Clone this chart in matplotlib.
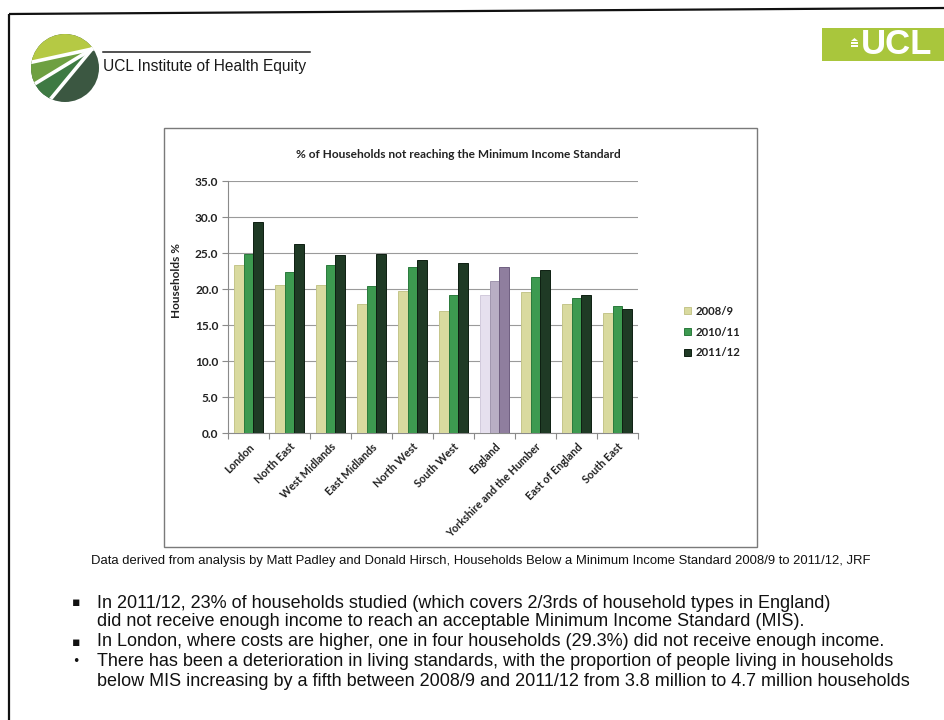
import matplotlib
matplotlib.use("Agg")
import matplotlib.pyplot as plt
from matplotlib.patches import Rectangle, Circle, Polygon
from matplotlib.ticker import FixedLocator, FormatStrFormatter
import numpy as np

# ---- data ----
regions = ["London", "North East", "West Midlands", "East Midlands", "North West",
           "South West", "England", "Yorkshire and the Humber", "East of England",
           "South East"]
series_names = ["2008/9", "2010/11", "2011/12"]
pct_2008_9 = [23.4, 20.5, 20.6, 17.9, 19.7, 17.0, 19.1, 19.6, 17.9, 16.7]
pct_2010_11 = [24.8, 22.4, 23.4, 20.4, 23.1, 19.2, 21.1, 21.7, 18.8, 17.6]
pct_2011_12 = [29.3, 26.3, 24.7, 24.8, 24.0, 23.6, 23.1, 22.6, 19.1, 17.2]
y_ticks = [0, 5, 10, 15, 20, 25, 30, 35]

chart_title = "% of Households not reaching the Minimum Income Standard"
y_title = "Households %"
source_note = ("Data derived from analysis by Matt Padley and Donald Hirsch, "
               "Households Below a Minimum Income Standard 2008/9 to 2011/12, JRF")
bullet_lines = [
    ("\u25aa", "In 2011/12, 23% of households studied (which covers 2/3rds of household types in England)"),
    (None, "did not receive enough income to reach an acceptable Minimum Income Standard (MIS)."),
    ("\u25aa", "In London, where costs are higher, one in four households (29.3%) did not receive enough income."),
    ("\u2022", "There has been a deterioration in living standards, with the proportion of people living in households"),
    (None, "below MIS increasing by a fifth between 2008/9 and 2011/12 from 3.8 million to 4.7 million households"),
]

# ---- styling ----
W, H = 944, 720
series_colors = ["#d9da9f", "#3d9a50", "#1f3a25"]
series_edges = ["#c4c58a", "#2a7a3c", "#0e1f12"]
england_colors = ["#e6e0ee", "#b8aec4", "#8f7e9e"]
england_edges = ["#d2cadc", "#a096ae", "#6f5f80"]
chart_font = ["Lato", "DejaVu Sans"]
body_font = ["Liberation Sans", "DejaVu Sans"]

fig = plt.figure(figsize=(W / 100, H / 100), dpi=100)
fig.patch.set_facecolor("white")

# full-page overlay in pixel units (y grows downward)
page = fig.add_axes([0, 0, 1, 1], zorder=0)
page.set_xlim(0, W)
page.set_ylim(H, 0)
page.axis("off")

# slide border
page.plot([9, 944], [14, 8], color="#111111", lw=1.6, solid_capstyle="butt")
page.plot([9, 9], [14, 720], color="#111111", lw=1.6, solid_capstyle="butt")

# circular emblem
cx, cy, r = 65, 68, 34
P = (92, 49)
circ = Circle((cx, cy), r, facecolor="#3b5741", edgecolor="none")
page.add_patch(circ)
l1 = (5, 68)
l2 = (5, 102)
l3 = (25, 130)
bands = [
    ([P, l1, (0, 0), (130, 0), (130, 40)], "#b5c944"),
    ([P, l1, l2], "#6ea041"),
    ([P, l2, (5, 130), l3], "#3e7a43"),
]
for pts, col in bands:
    poly = Polygon(pts, closed=True, facecolor=col, edgecolor="none")
    page.add_patch(poly)
    poly.set_clip_path(circ)
for end in (l1, l2, l3):
    ln, = page.plot([P[0], end[0]], [P[1], end[1]], color="white", lw=2.6)
    ln.set_clip_path(circ)

page.plot([103, 310], [52, 52], color="#222222", lw=1.1)
page.text(103, 66, "UCL Institute of Health Equity", fontsize=11.2,
          family=["Liberation Sans", "DejaVu Sans"], color="#1a1a1a",
          ha="left", va="center")

# UCL block
page.add_patch(Rectangle((822, 28), 130, 33, facecolor="#a9c63c", edgecolor="none"))
page.text(861, 45, "UCL", fontsize=25, fontweight="bold", color="white",
          family=["Liberation Sans", "DejaVu Sans"], ha="left", va="center")
page.add_patch(Rectangle((851, 42), 7, 1.6, facecolor="white", edgecolor="none"))
page.add_patch(Rectangle((851, 45), 7, 1.6, facecolor="white", edgecolor="none"))
page.add_patch(Polygon([(851, 41), (854.5, 38), (858, 41)], facecolor="white", edgecolor="none"))

# chart frame
page.add_patch(Rectangle((164, 128), 757 - 164, 547 - 128, facecolor="white",
                         edgecolor="#7a7a7a", lw=1.0))
page.text(458, 155, chart_title, fontsize=8.6, fontweight="bold",
          family=chart_font, color="#222222", ha="center", va="center")
page.text(177, 281, y_title, fontsize=8.5, fontweight="bold", family=chart_font,
          color="#222222", rotation=90, ha="center", va="center")

# source note and bullet text
page.text(481, 561, source_note, fontsize=9.4, family=body_font, color="#111111",
          ha="center", va="center")
bullet_y = [603, 622, 642, 662, 682]
for (mark, line), yy in zip(bullet_lines, bullet_y):
    if mark:
        page.text(76, yy, mark, fontsize=9, family=["DejaVu Sans"], color="#111111",
                  ha="center", va="center")
    page.text(97, yy, line, fontsize=13.0, family=body_font, color="#111111",
              ha="left", va="center")

# ---- bar chart ----
left, right, top, bottom = 228, 638, 181, 433
ax = fig.add_axes([left / W, 1 - bottom / H, (right - left) / W, (bottom - top) / H],
                  zorder=2)
ax.patch.set_alpha(0)

n = len(regions)
x = np.arange(n)
bw = 0.23
values = [pct_2008_9, pct_2010_11, pct_2011_12]
eng = regions.index("England")
handles = []
for i, (vals, col, edge) in enumerate(zip(values, series_colors, series_edges)):
    cols = [england_colors[i] if j == eng else col for j in range(n)]
    edges = [england_edges[i] if j == eng else edge for j in range(n)]
    bars = ax.bar(x + (i - 1) * bw, vals, width=bw, color=cols, edgecolor=edges,
                  linewidth=0.7, label=series_names[i], zorder=3)
    handles.append(bars[0])

ax.set_xlim(-0.5, n - 0.5)
ax.set_ylim(0, 35)
ax.yaxis.set_major_locator(FixedLocator(y_ticks))
ax.yaxis.set_major_formatter(FormatStrFormatter("%.1f"))
ax.grid(axis="y", color="#9a9a9a", lw=0.8, zorder=0)
ax.set_axisbelow(True)
for s in ("top", "right"):
    ax.spines[s].set_visible(False)
for s in ("left", "bottom"):
    ax.spines[s].set_color("#8a8a8a")
    ax.spines[s].set_linewidth(0.8)

ax.set_xticks(x)
ax.set_xticklabels(regions, rotation=45, ha="right", rotation_mode="anchor",
                   fontsize=7.8, fontweight="bold", family=chart_font, color="#222222")
ax.set_xticks(np.arange(-0.5, n, 1.0), minor=True)
ax.tick_params(axis="x", which="major", length=0, pad=6)
ax.tick_params(axis="x", which="minor", length=4, color="#8a8a8a", width=0.8)
ax.tick_params(axis="y", length=4, color="#8a8a8a", width=0.8, pad=3)
for lab in ax.get_yticklabels():
    lab.set_fontsize(8.6)
    lab.set_fontweight("bold")
    lab.set_family(chart_font)
    lab.set_color("#222222")

leg = ax.legend(handles, series_names, loc="center left",
                bbox_to_anchor=(684 / W, 1 - 332 / H), bbox_transform=fig.transFigure,
                frameon=False, handlelength=0.6, handleheight=0.6, handletextpad=0.4,
                labelspacing=0.85, borderaxespad=0, borderpad=0,
                prop={"family": chart_font, "weight": "bold", "size": 8.2})
for t in leg.get_texts():
    t.set_color("#222222")
for hpatch, col, edge in zip(leg.legend_handles, series_colors, series_edges):
    hpatch.set_facecolor(col)
    hpatch.set_edgecolor(edge)

fig.savefig("out.png", dpi=100, facecolor="white")
